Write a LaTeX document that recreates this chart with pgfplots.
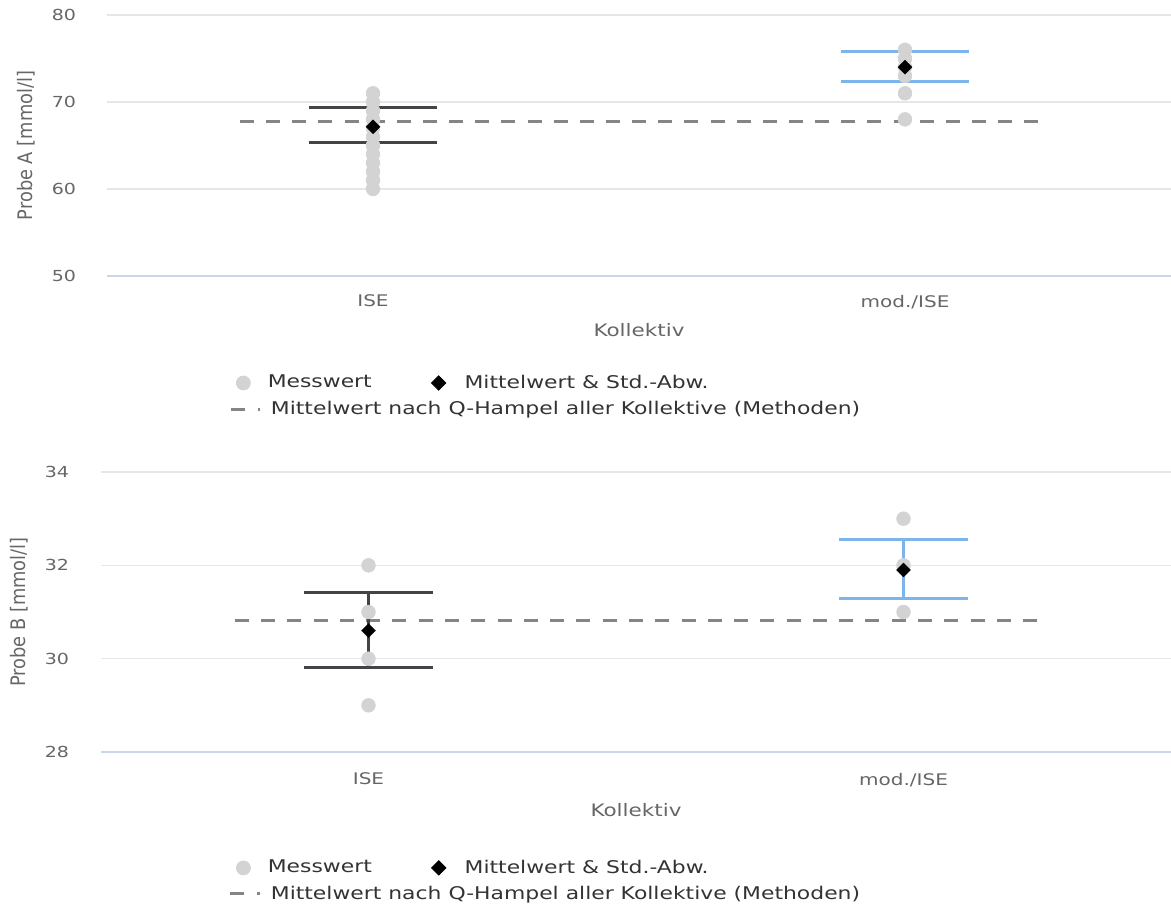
\documentclass[border=0pt]{standalone}
\usepackage{fontspec}
\setmainfont{DejaVu Sans}[FakeStretch=1.25]
\newfontfamily\ylabfont{DejaVu Sans}[FakeStretch=0.89]
\usepackage{pgfplots}
\pgfplotsset{compat=1.18}

\definecolor{dotgray}{HTML}{D3D3D3}
\definecolor{errdark}{HTML}{434348}
\definecolor{errblue}{HTML}{7CB5EC}
\definecolor{dashgray}{HTML}{858585}
\definecolor{gridc}{HTML}{E6E6E6}
\definecolor{axisc}{HTML}{CCD6EB}
\definecolor{lab}{HTML}{666666}
\definecolor{legtext}{HTML}{333333}

\pgfplotsset{
  hc/.style={
    scale only axis, xmin=-0.5, xmax=1.5,
    axis line style={draw=none},
    xtick={0,1}, xticklabels={ISE, mod./ISE},
    xtick style={draw=none},
    extra x ticks={-0.5,0.5}, extra x tick labels={},
    extra x tick style={tick style={draw=axisc, line width=0.6pt}, major tick length=7.5pt, tick align=outside, grid=none},
    ymajorgrids, grid style={draw=gridc, line width=0.6pt},
    ytick style={draw=none},
    yticklabel style={font=\fontsize{7.6}{9}\selectfont, text=lab},
    xticklabel style={font=\fontsize{8}{9.6}\selectfont, text=lab},
    /pgf/number format/assume math mode=true,
    xlabel={Kollektiv},
    xlabel style={anchor=center, font=\fontsize{8.6}{10}\selectfont, text=lab},
    ylabel style={anchor=center, font=\ylabfont\fontsize{10}{12}\selectfont, text=lab},
    clip=false,
    legend style={draw=none, fill=none, inner sep=0pt, outer sep=0pt, column sep=0pt,
      nodes={inner sep=0pt, text=legtext, font=\fontsize{8.75}{10.5}\selectfont}, anchor=west},
    legend cell align=left,
  },
  dots/.style={only marks, mark=*, mark size=3.4pt, color=dotgray, fill=dotgray, forget plot},
  hamp/.style={dashgray, line width=1.5pt, dash pattern=on 7pt off #1, forget plot},
  ebar/.style={#1, line width=1.5pt, forget plot, mark=none},
  means/.style={only marks, mark=square*, mark size=2.5pt, color=black, mark options={rotate=45, fill=black, draw=black, line width=0.1pt}, forget plot},
  legA/.style={legend image code/.code={\path (0pt,0pt) (17pt,0pt); \fill[dotgray] (5pt,0pt) circle (3.5pt);}},
  legB/.style={legend image code/.code={\path (0pt,0pt) (46pt,0pt); \fill[black] (33.25pt,3.6pt) -- (36.85pt,0pt) -- (33.25pt,-3.6pt) -- (29.65pt,0pt) -- cycle;}},
  legC/.style={legend image code/.code={\path (0pt,0pt) (20pt,0pt); \draw[dashgray, line width=1.5pt] (0pt,0pt) -- (7pt,0pt) (13.5pt,0pt) -- (14.8pt,0pt);}},
}

\begin{document}
\begin{tikzpicture}
\useasboundingbox (0,0) rectangle (585.5pt,455pt);

% ---------- Top: Probe A ----------
\begin{axis}[hc, at={(53.5pt,317pt)}, anchor=south west, width=532pt, height=130.5pt,
  ymin=50, ymax=80, ytick={50,60,70,80},
  ylabel={Probe A [mmol/l]},
  ylabel style={at={(axis description cs:-0.0761,0.5)}},
  xlabel style={at={(axis description cs:0.5,0)}, yshift=-27pt},
  yticklabel style={xshift=-12pt},
  xticklabel style={yshift=-6pt},
  legend columns=2,
  legend style={at={(axis description cs:0.1184,-0.41)}}]
\draw[axisc, line width=0.6pt] (axis cs:-0.5,50) -- (axis cs:1.5,50);
\addplot[dots] coordinates {(0,60) (0,61) (0,62) (0,63) (0,64) (0,65) (0,66) (0,67) (0,68) (0,69) (0,70) (0,71)};
\addplot[dots] coordinates {(1,68) (1,71) (1,73) (1,74) (1,75) (1,76)};
\addplot[hamp=6.07pt] coordinates {(-0.25,67.8) (1.25,67.8)};
% ISE: mean 67.15, upper 69.35, lower 65.4
\addplot[ebar=errdark] coordinates {(0,65.4) (0,69.35)};
\addplot[ebar=errdark] coordinates {(-0.12,69.35) (0.12,69.35)};
\addplot[ebar=errdark] coordinates {(-0.12,65.4) (0.12,65.4)};
% mod./ISE: mean 74.0, upper 75.85, lower 72.4
\addplot[ebar=errblue] coordinates {(1,72.4) (1,75.85)};
\addplot[ebar=errblue] coordinates {(0.88,75.85) (1.12,75.85)};
\addplot[ebar=errblue] coordinates {(0.88,72.4) (1.12,72.4)};
\addplot[means] coordinates {(0,67.15) (1,74.0)};
\addlegendimage{legA}
\addlegendentry{Messwert}
\addlegendimage{legB}
\addlegendentry{Mittelwert \& Std.-Abw.}
\end{axis}
\begin{axis}[hc, hide axis, at={(53.5pt,317pt)}, anchor=south west, width=532pt, height=130.5pt,
  ymin=50, ymax=80,
  legend style={at={(axis description cs:0.1147,-0.5096)}}]
\addlegendimage{legC}
\addlegendentry{Mittelwert nach Q-Hampel aller Kollektive (Methoden)}
\end{axis}

% ---------- Bottom: Probe B ----------
\begin{axis}[hc, at={(50.5pt,79pt)}, anchor=south west, width=535pt, height=140pt,
  ymin=28, ymax=34, ytick={28,30,32,34},
  ylabel={Probe B [mmol/l]},
  ylabel style={at={(axis description cs:-0.0766,0.5)}},
  xlabel style={at={(axis description cs:0.5,0)}, yshift=-29pt},
  yticklabel style={xshift=-12.5pt},
  xticklabel style={yshift=-7pt},
  legend columns=2,
  legend style={at={(axis description cs:0.1234,-0.414)}}]
\draw[axisc, line width=0.6pt] (axis cs:-0.5,28) -- (axis cs:1.5,28);
\addplot[dots] coordinates {(0,29) (0,30) (0,31) (0,32)};
\addplot[dots] coordinates {(1,31) (1,32) (1,33)};
\addplot[hamp=6.14pt] coordinates {(-0.25,30.82) (1.25,30.82)};
% ISE: mean 30.6, upper 31.42, lower 29.81
\addplot[ebar=errdark] coordinates {(0,29.81) (0,31.42)};
\addplot[ebar=errdark] coordinates {(-0.12,31.42) (0.12,31.42)};
\addplot[ebar=errdark] coordinates {(-0.12,29.81) (0.12,29.81)};
% mod./ISE: mean 31.9, upper 32.55, lower 31.29
\addplot[ebar=errblue] coordinates {(1,31.29) (1,32.55)};
\addplot[ebar=errblue] coordinates {(0.88,32.55) (1.12,32.55)};
\addplot[ebar=errblue] coordinates {(0.88,31.29) (1.12,31.29)};
\addplot[means] coordinates {(0,30.6) (1,31.9)};
\addlegendimage{legA}
\addlegendentry{Messwert}
\addlegendimage{legB}
\addlegendentry{Mittelwert \& Std.-Abw.}
\end{axis}
\begin{axis}[hc, hide axis, at={(50.5pt,79pt)}, anchor=south west, width=535pt, height=140pt,
  ymin=28, ymax=34,
  legend style={at={(axis description cs:0.1196,-0.507)}}]
\addlegendimage{legC}
\addlegendentry{Mittelwert nach Q-Hampel aller Kollektive (Methoden)}
\end{axis}
\end{tikzpicture}
\end{document}
